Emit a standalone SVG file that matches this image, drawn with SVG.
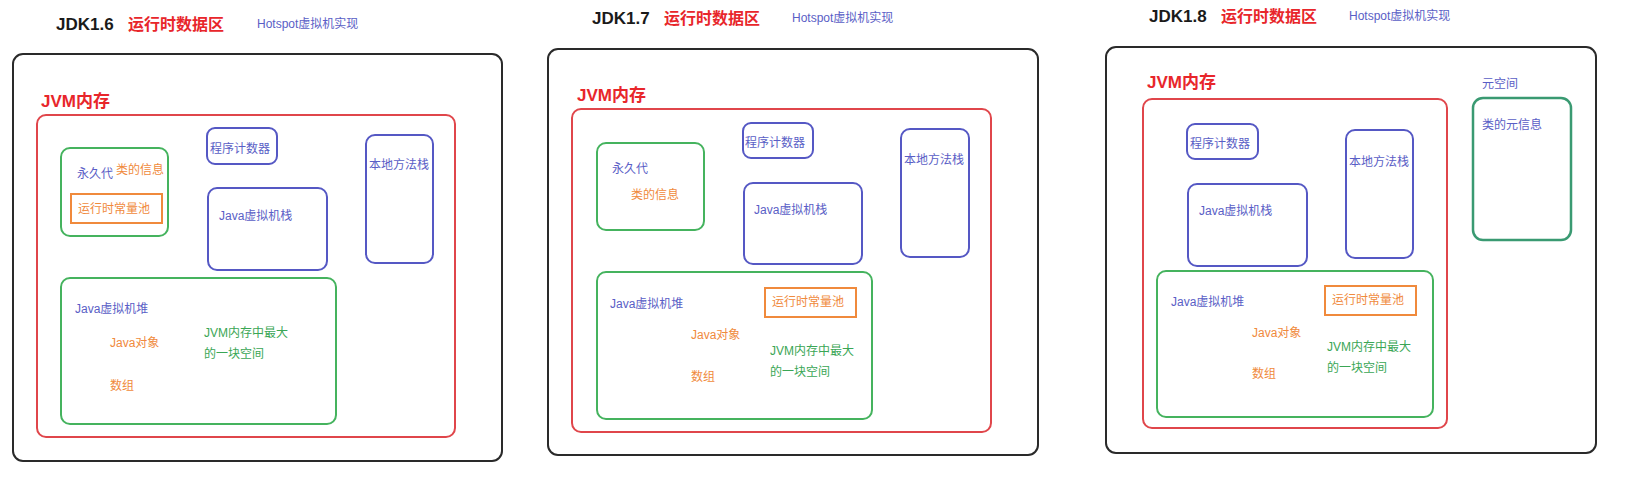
<svg xmlns="http://www.w3.org/2000/svg" width="1650" height="494" viewBox="0 0 1650 494">
<style>
text{font-family:"Liberation Sans","Noto Sans CJK SC",sans-serif;}
.outer{fill:none;stroke:#2a2a2a;stroke-width:2;}
.red{fill:none;stroke:#e0464b;stroke-width:2;}
.blue{fill:none;stroke:#5558c4;stroke-width:2;}
.green{fill:none;stroke:#45b35e;stroke-width:2;}
.meta{fill:none;stroke:#3a9a72;stroke-width:2.5;}
.orange{fill:none;stroke:#f08a3c;stroke-width:2;}
.jdk{font-size:17px;font-weight:bold;fill:#1a1a1a;}
.title{font-size:16px;font-weight:bold;fill:#e8262b;}
.hs{font-size:12px;fill:#5a5ec6;}
.jvm{font-size:17px;font-weight:bold;fill:#e8262b;}
.tb{font-size:12px;fill:#5a5ec6;}
.to{font-size:12px;fill:#f08a3c;}
.tg{font-size:12px;fill:#3aa655;}
</style>
<rect width="1650" height="494" fill="#ffffff"/>

<!-- Panel JDK1.6 -->
<g id="jdk16">
  <g id="jdk16-title">
    <text class="jdk" x="56" y="30">JDK1.6</text>
    <text class="title" x="128" y="30">运行时数据区</text>
    <text class="hs" x="257" y="28">Hotspot虚拟机实现</text>
  </g>
  <rect id="jdk16-outer" class="outer" x="13" y="54" width="489" height="407" rx="10"/>
  <g id="jdk16-jvm">
    <text class="jvm" x="41" y="107">JVM内存</text>
    <rect class="red" x="37" y="115" width="418" height="322" rx="9"/>
  </g>
  <g id="jdk16-perm">
    <rect class="green" x="61" y="148" width="107" height="88" rx="9"/>
    <text class="tb" x="77" y="178">永久代</text>
    <text class="to" x="116" y="174">类的信息</text>
  </g>
  <g id="jdk16-pool">
    <rect class="orange" x="71" y="194" width="91" height="29"/>
    <text class="to" x="78" y="213">运行时常量池</text>
  </g>
  <g id="jdk16-pc">
    <rect class="blue" x="207" y="128" width="70" height="36" rx="8"/>
    <text class="tb" x="210" y="153">程序计数器</text>
  </g>
  <g id="jdk16-native">
    <rect class="blue" x="366" y="135" width="67" height="128" rx="9"/>
    <text class="tb" x="369" y="169">本地方法栈</text>
  </g>
  <g id="jdk16-stack">
    <rect class="blue" x="208" y="188" width="119" height="82" rx="9"/>
    <text class="tb" x="219" y="220">Java虚拟机栈</text>
  </g>
  <g id="jdk16-heap">
    <rect class="green" x="61" y="278" width="275" height="146" rx="9"/>
    <text class="tb" x="75" y="313">Java虚拟机堆</text>
    <text class="to" x="110" y="347">Java对象</text>
    <text class="to" x="110" y="390">数组</text>
    <text class="tg" x="204" y="337">JVM内存中最大</text>
    <text class="tg" x="204" y="358">的一块空间</text>
  </g>
</g>

<!-- Panel JDK1.7 -->
<g id="jdk17">
  <g id="jdk17-title">
    <text class="jdk" x="592" y="24">JDK1.7</text>
    <text class="title" x="664" y="24">运行时数据区</text>
    <text class="hs" x="792" y="22">Hotspot虚拟机实现</text>
  </g>
  <rect id="jdk17-outer" class="outer" x="548" y="49" width="490" height="406" rx="10"/>
  <g id="jdk17-jvm">
    <text class="jvm" x="577" y="101">JVM内存</text>
    <rect class="red" x="572" y="109" width="419" height="323" rx="9"/>
  </g>
  <g id="jdk17-perm">
    <rect class="green" x="597" y="143" width="107" height="87" rx="9"/>
    <text class="tb" x="612" y="173">永久代</text>
    <text class="to" x="631" y="199">类的信息</text>
  </g>
  <g id="jdk17-pc">
    <rect class="blue" x="743" y="123" width="70" height="35" rx="8"/>
    <text class="tb" x="745" y="147">程序计数器</text>
  </g>
  <g id="jdk17-native">
    <rect class="blue" x="901" y="129" width="68" height="128" rx="9"/>
    <text class="tb" x="904" y="164">本地方法栈</text>
  </g>
  <g id="jdk17-stack">
    <rect class="blue" x="744" y="183" width="118" height="81" rx="9"/>
    <text class="tb" x="754" y="214">Java虚拟机栈</text>
  </g>
  <g id="jdk17-heap">
    <rect class="green" x="597" y="272" width="275" height="147" rx="9"/>
    <text class="tb" x="610" y="308">Java虚拟机堆</text>
    <text class="to" x="691" y="339">Java对象</text>
    <text class="to" x="691" y="381">数组</text>
    <text class="tg" x="770" y="355">JVM内存中最大</text>
    <text class="tg" x="770" y="376">的一块空间</text>
  </g>
  <g id="jdk17-pool">
    <rect class="orange" x="765" y="288" width="91" height="29"/>
    <text class="to" x="772" y="306">运行时常量池</text>
  </g>
</g>

<!-- Panel JDK1.8 -->
<g id="jdk18">
  <g id="jdk18-title">
    <text class="jdk" x="1149" y="22">JDK1.8</text>
    <text class="title" x="1221" y="22">运行时数据区</text>
    <text class="hs" x="1349" y="20">Hotspot虚拟机实现</text>
  </g>
  <rect id="jdk18-outer" class="outer" x="1106" y="47" width="490" height="406" rx="10"/>
  <g id="jdk18-jvm">
    <text class="jvm" x="1147" y="88">JVM内存</text>
    <rect class="red" x="1143" y="99" width="304" height="329" rx="9"/>
  </g>
  <g id="jdk18-pc">
    <rect class="blue" x="1187" y="124" width="71" height="35" rx="8"/>
    <text class="tb" x="1190" y="148">程序计数器</text>
  </g>
  <g id="jdk18-native">
    <rect class="blue" x="1346" y="130" width="67" height="128" rx="9"/>
    <text class="tb" x="1349" y="166">本地方法栈</text>
  </g>
  <g id="jdk18-stack">
    <rect class="blue" x="1188" y="184" width="119" height="82" rx="9"/>
    <text class="tb" x="1199" y="215">Java虚拟机栈</text>
  </g>
  <g id="jdk18-heap">
    <rect class="green" x="1157" y="271" width="276" height="146" rx="9"/>
    <text class="tb" x="1171" y="306">Java虚拟机堆</text>
    <text class="to" x="1252" y="337">Java对象</text>
    <text class="to" x="1252" y="378">数组</text>
    <text class="tg" x="1327" y="351">JVM内存中最大</text>
    <text class="tg" x="1327" y="372">的一块空间</text>
  </g>
  <g id="jdk18-pool">
    <rect class="orange" x="1325" y="286" width="91" height="29"/>
    <text class="to" x="1332" y="304">运行时常量池</text>
  </g>
  <g id="jdk18-meta">
    <text class="tb" x="1482" y="88">元空间</text>
    <rect class="meta" x="1473" y="98" width="98" height="142" rx="10"/>
    <text class="tb" x="1482" y="129">类的元信息</text>
  </g>
</g>

<g id="connectors"/>
</svg>
